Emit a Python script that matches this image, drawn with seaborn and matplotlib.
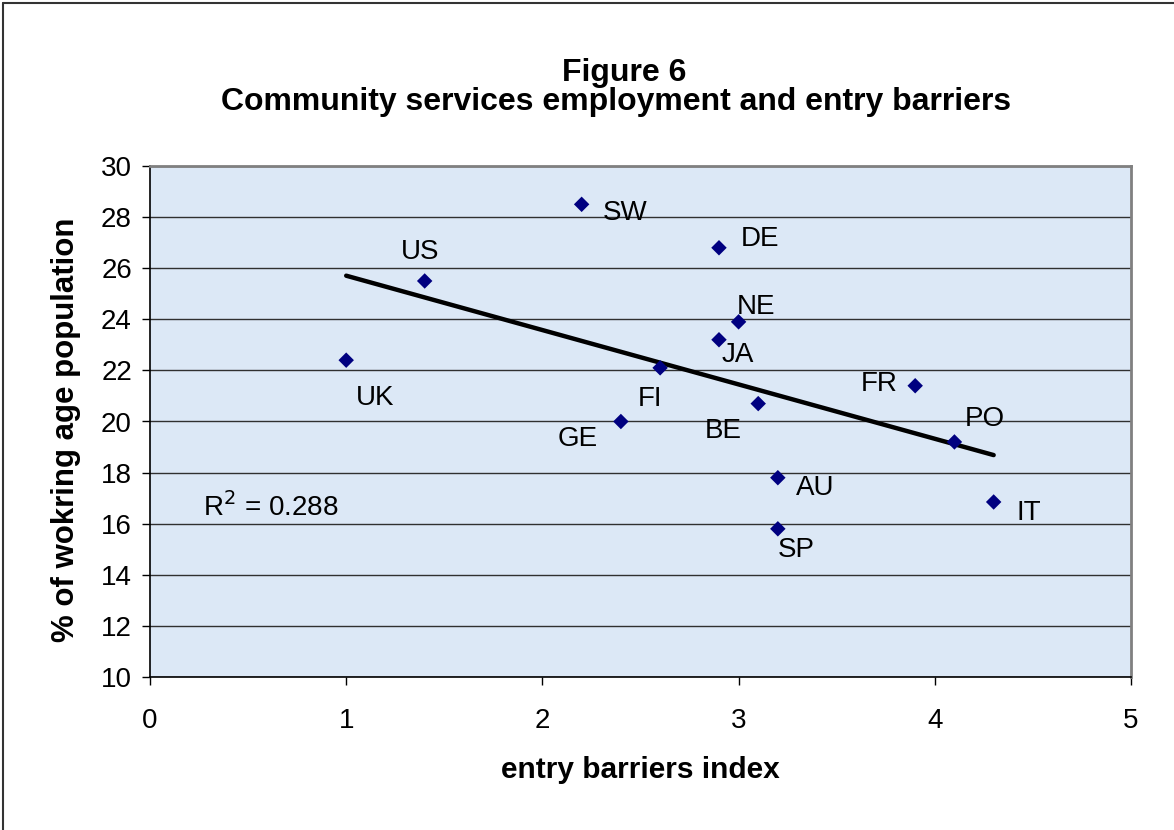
import numpy as np
import pandas as pd
import matplotlib
matplotlib.use("Agg")
import matplotlib.pyplot as plt
import seaborn as sns
from matplotlib.lines import Line2D

# ---- data ----
countries = ["UK", "US", "SW", "DE", "NE", "JA", "FI", "GE", "BE", "FR", "PO", "AU", "SP", "IT"]
entry_barriers = [1.0, 1.4, 2.2, 2.9, 3.0, 2.9, 2.6, 2.4, 3.1, 3.9, 4.1, 3.2, 3.2, 4.3]
employment = [22.4, 25.5, 28.5, 26.8, 23.9, 23.2, 22.1, 20.0, 20.7, 21.4, 19.2, 17.8, 15.8, 16.85]
x_ticks = [0, 1, 2, 3, 4, 5]
y_ticks = [10, 12, 14, 16, 18, 20, 22, 24, 26, 28, 30]
title_lines = ["Figure 6", "Community services employment and entry barriers"]
x_label = "entry barriers index"
y_label = "% of wokring age population"
r2_text = "R$^2$ = 0.288"

# label placement (pixels offset, horizontal alignment)
label_offsets = {
    "UK": (10, -38, "left"), "US": (-5, 29, "center"), "SW": (21, -9, "left"),
    "DE": (22, 9, "left"), "NE": (-2, 15, "left"), "JA": (3, -15, "left"),
    "FI": (2, -31, "right"), "GE": (-23, -17, "right"), "BE": (-16, -27, "right"),
    "FR": (-18, 2, "right"), "PO": (10, 23, "left"), "AU": (18, -10, "left"),
    "SP": (0, -21, "left"), "IT": (23, -11, "left"),
}

df = pd.DataFrame({"country": countries, "x": entry_barriers, "y": employment})

sns.set_theme(style="white")
plt.rcParams["font.family"] = ["Liberation Sans", "DejaVu Sans"]
plt.rcParams["text.color"] = "black"
plt.rcParams["xtick.color"] = "black"
plt.rcParams["ytick.color"] = "black"
plt.rcParams["axes.labelcolor"] = "black"

REG = 20
BOLD = 21.5
TITLE = 23

W, H = 1174, 830
fig = plt.figure(figsize=(W / 100, H / 100), dpi=100)
ax = fig.add_axes([150 / W, 1 - 677 / H, (1131 - 150) / W, (677 - 166) / H])
ax.set_facecolor("#dce8f6")

ax.set_xlim(0, 5)
ax.set_ylim(10, 30)
ax.set_xticks(x_ticks)
ax.set_yticks(y_ticks)
ax.yaxis.grid(True, color="#303030", linewidth=1.0)
ax.set_axisbelow(True)

sns.regplot(data=df, x="x", y="y", scatter=False, ci=None, truncate=True,
            line_kws={"color": "black", "linewidth": 3.2, "solid_capstyle": "round"}, ax=ax)
sns.scatterplot(data=df, x="x", y="y", marker="D", s=62, color="#000080",
                edgecolor="none", ax=ax, zorder=3)

for c, xv, yv in zip(countries, entry_barriers, employment):
    dx, dy, ha = label_offsets[c]
    ax.annotate(c, (xv, yv), xytext=(dx, dy), textcoords="offset pixels",
                ha=ha, va="center", fontsize=REG, color="black")

ax.text(0.27, 16.65, r2_text, fontsize=REG, ha="left", va="center")

ax.set_xlabel("")
ax.set_ylabel("")
for side in ["left", "bottom"]:
    ax.spines[side].set_color("black")
    ax.spines[side].set_linewidth(1.2)
for side in ["top", "right"]:
    ax.spines[side].set_color("#808080")
    ax.spines[side].set_linewidth(2.0)
ax.tick_params(axis="both", direction="out", length=6, width=1, color="black",
               labelsize=REG)
ax.tick_params(axis="x", pad=16)
ax.tick_params(axis="y", pad=7)
ax.xaxis.set_ticks_position("bottom")
ax.yaxis.set_ticks_position("left")

fig.text(66 / W, 1 - 430 / H, y_label, rotation=90, ha="center", va="center",
         fontsize=22.5, fontweight="bold")
fig.text(640 / W, 1 - 770 / H, x_label, ha="center", va="center",
         fontsize=BOLD, fontweight="bold")
fig.text(624 / W, 1 - 73 / H, title_lines[0], ha="center", va="center",
         fontsize=TITLE, fontweight="bold")
fig.text(616 / W, 1 - 102 / H, title_lines[1], ha="center", va="center",
         fontsize=TITLE, fontweight="bold")

# outer chart border (left and top visible)
fig.add_artist(Line2D([2.5 / W, 2.5 / W], [0, 1 - 3 / H], transform=fig.transFigure,
                      color="#333333", linewidth=1.5))
fig.add_artist(Line2D([2.5 / W, 1], [1 - 3 / H, 1 - 3 / H], transform=fig.transFigure,
                      color="#333333", linewidth=1.5))

fig.savefig("out.png", dpi=100)
